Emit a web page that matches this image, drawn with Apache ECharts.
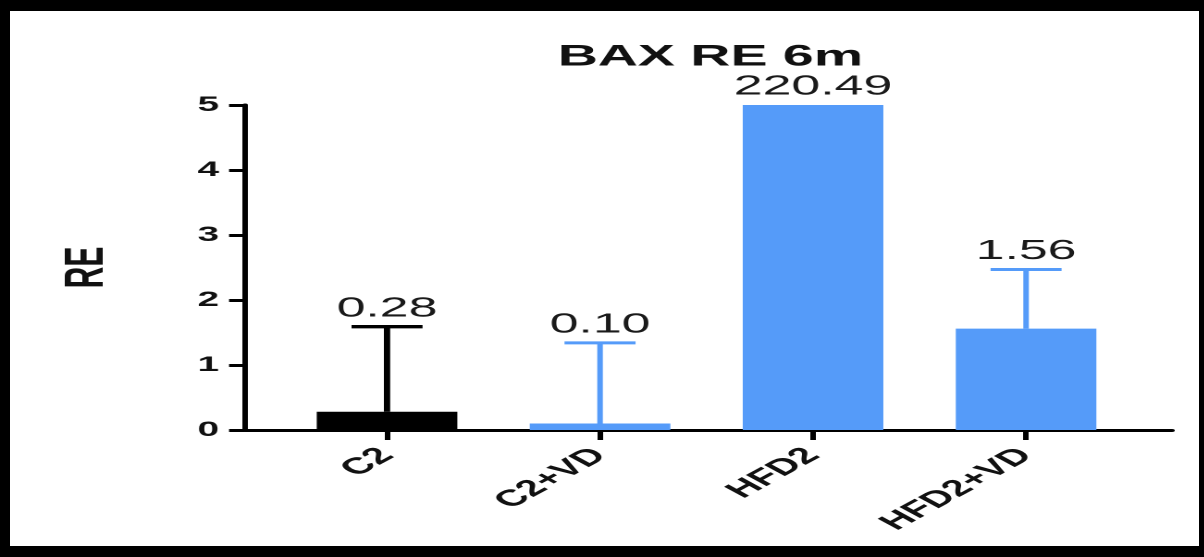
<!DOCTYPE html>
<html>
<head>
<meta charset="utf-8">
<title>BAX RE 6m</title>
<script src="https://cdn.jsdelivr.net/npm/echarts@6/dist/echarts.min.js"></script>
<style>
  html, body { margin: 0; padding: 0; background: #fff; }
  #wrap { position: relative; width: 1204px; height: 557px; overflow: hidden; background: #fff; }
  /* the figure is laid out narrow and widened horizontally, like the exported graph */
  #chart { position: absolute; left: 0; top: 0; width: 651px; height: 557px;
           transform: scaleX(1.85); transform-origin: 0 0; }
  #frame { position: absolute; left: 0; top: 0; width: 1204px; height: 557px; box-sizing: border-box;
           border-style: solid; border-color: #000; border-width: 11px 5px 11px 10px; pointer-events: none; }
</style>
</head>
<body>
<div id="wrap">
  <div id="chart"></div>
  <div id="frame"></div>
</div>
<script>
// Group names, mean relative expression and upper SD whisker for each group
const categories = ['C2', 'C2+VD', 'HFD2', 'HFD2+VD'];
const means = [0.28, 0.10, 220.49, 1.56];
const sdUpper = [1.31, 1.24, null, 0.91];
// Y axis range and step
const yMin = 0, yMax = 5, yStep = 1;

// styling
const BLUE = '#559BF9';
const BLACK = '#000000';
const INK = '#111111';
const colorFor = i => (i === 0 ? BLACK : BLUE);

const positions = categories.map((c, i) => i);

const chart = echarts.init(document.getElementById('chart'), null, { renderer: 'canvas', devicePixelRatio: 2 });

chart.setOption({
  animation: false,
  backgroundColor: 'transparent',
  title: {
    text: 'BAX RE 6m',
    left: 379,
    top: 37,
    textAlign: 'center',
    textStyle: { fontFamily: 'Liberation Sans', fontWeight: 'bold', fontSize: 30, color: INK }
  },
  grid: { left: 132.4, right: 17.5, top: 105, bottom: 127, containLabel: false },
  xAxis: {
    type: 'value',
    min: -0.667,
    max: 3.685,
    splitLine: { show: false },
    axisLine: { show: true, onZero: false, lineStyle: { color: BLACK, width: 3 } },
    axisTick: { show: true, customValues: positions, length: 10, lineStyle: { color: BLACK, width: 3 } },
    axisLabel: {
      show: true,
      customValues: positions,
      rotate: 45,
      margin: 22,
      formatter: v => categories[Math.round(v)],
      fontFamily: 'Liberation Sans', fontWeight: 'bold', fontSize: 23, color: INK
    }
  },
  yAxis: {
    type: 'value',
    min: yMin,
    max: yMax,
    interval: yStep,
    name: 'RE',
    nameLocation: 'middle',
    nameRotate: 90,
    nameGap: 70,
    nameTextStyle: { fontFamily: 'Liberation Sans', fontWeight: 'bold', fontSize: 30, color: INK },
    splitLine: { show: false },
    axisLine: { show: true, onZero: false, lineStyle: { color: BLACK, width: 3 } },
    axisTick: { show: true, length: 8.6, lineStyle: { color: BLACK, width: 3 } },
    axisLabel: { margin: 14, fontFamily: 'Liberation Sans', fontWeight: 'bold', fontSize: 21, color: INK }
  },
  series: [
    {
      type: 'bar',
      clip: true,
      barWidth: 76,
      data: means.map((v, i) => ({ value: [positions[i], v], itemStyle: { color: colorFor(i) } })),
      z: 2
    },
    {
      // upper SD whiskers and mean value labels
      type: 'custom',
      z: 3,
      data: means.map((v, i) => [positions[i], v]),
      renderItem: function (params, api) {
        const idx = params.dataIndex;
        const x = api.value(0);
        const mean = api.value(1);
        const sd = sdUpper[idx];
        const color = colorFor(idx);
        const children = [];
        const barTop = api.coord([x, Math.min(mean, yMax)]);
        let topY = barTop[1];
        if (sd != null) {
          const p0 = api.coord([x, mean]);
          const p1 = api.coord([x, mean + sd]);
          const hw = 19.2;
          children.push({
            type: 'line',
            shape: { x1: p0[0], y1: p0[1], x2: p1[0], y2: p1[1] },
            style: { stroke: color, lineWidth: idx === 0 ? 3.4 : 3 }
          });
          children.push({
            type: 'line',
            shape: { x1: p1[0] - hw, y1: p1[1], x2: p1[0] + hw, y2: p1[1] },
            style: { stroke: color, lineWidth: idx === 0 ? 3.4 : 3 }
          });
          topY = p1[1];
        }
        children.push({
          type: 'text',
          x: barTop[0],
          y: topY - 4,
          style: {
            text: mean.toFixed(2),
            align: 'center',
            verticalAlign: 'bottom',
            font: '28px "Liberation Sans"',
            fill: '#1a1a1a'
          }
        });
        return { type: 'group', children: children };
      }
    }
  ]
});
</script>
</body>
</html>
